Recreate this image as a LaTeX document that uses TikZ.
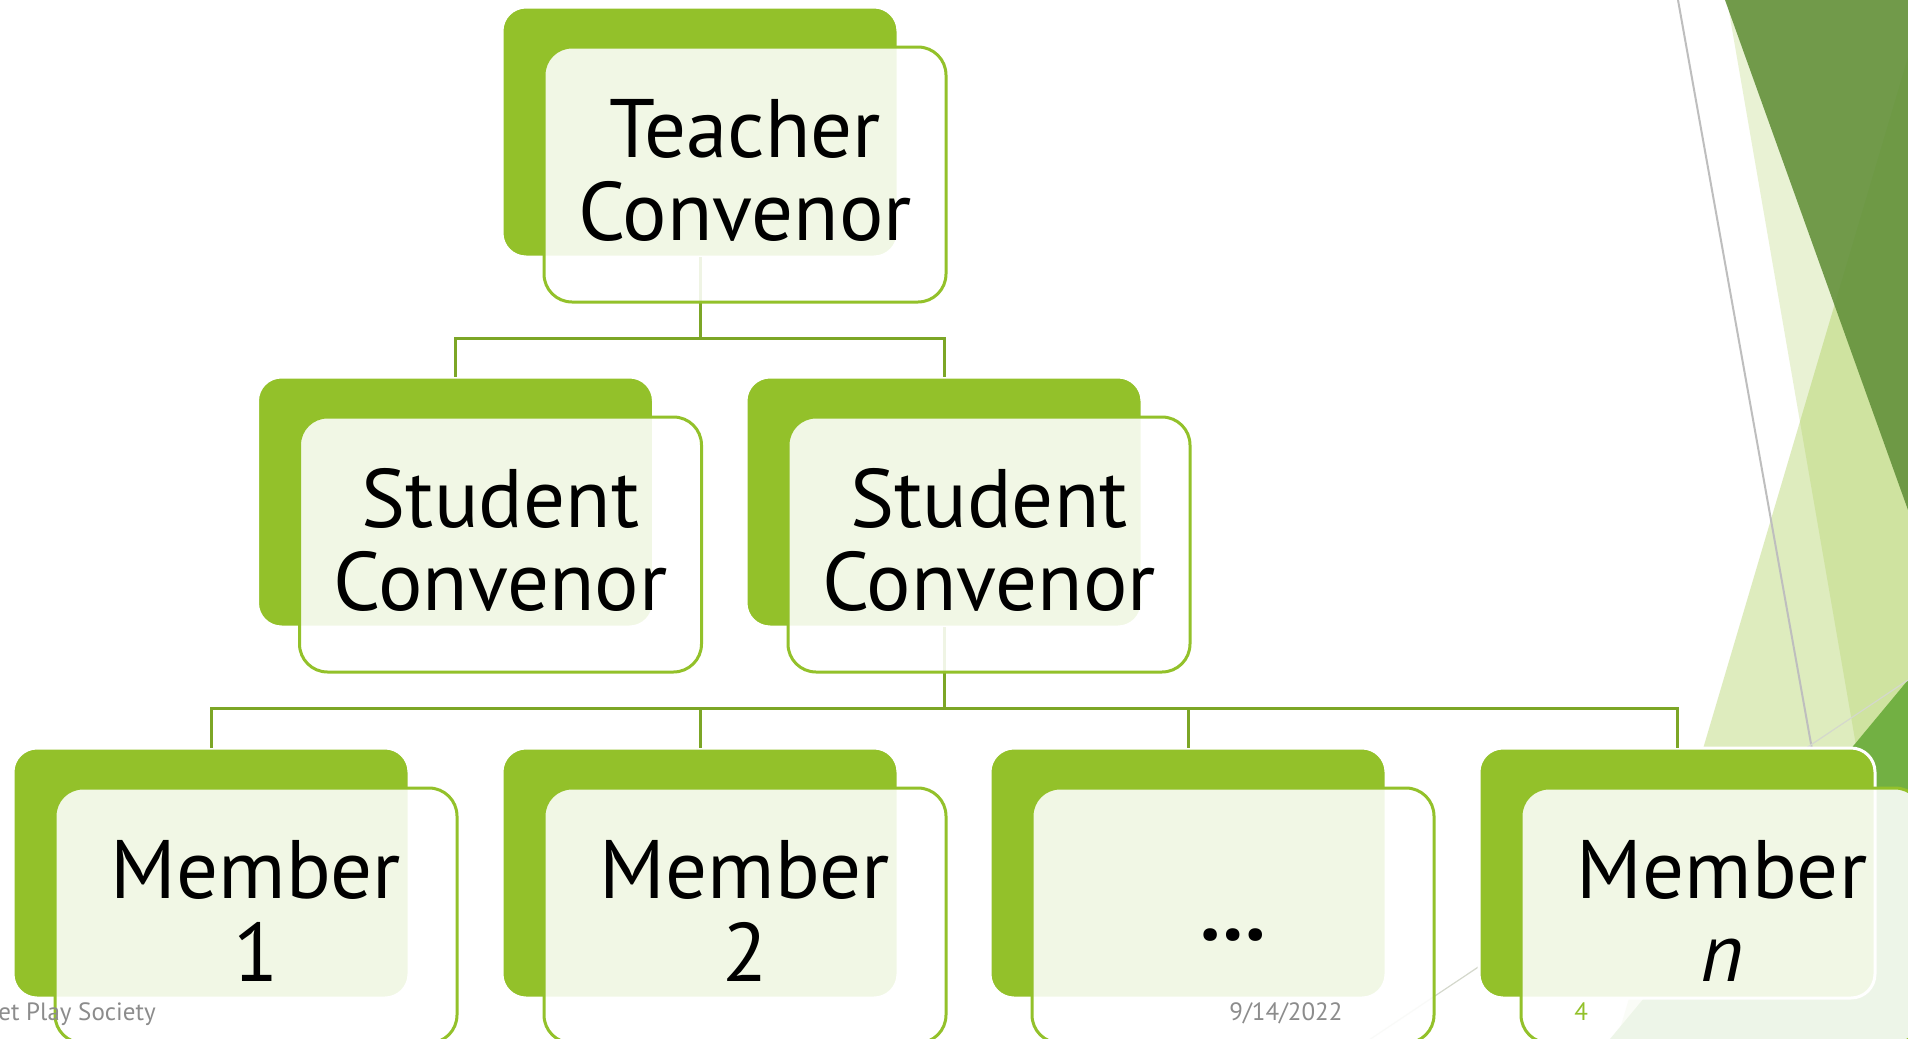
\documentclass[tikz,border=0pt]{standalone}
\usepackage{fontspec}
\setmainfont{PT Sans}
\definecolor{gbox}{RGB}{147,193,42}
\definecolor{gconn}{RGB}{124,166,38}
\definecolor{gdark}{RGB}{100,145,60}
\definecolor{gmid}{RGB}{114,176,67}
\definecolor{footgray}{RGB}{140,140,140}
\definecolor{linegray}{RGB}{190,190,190}
\definecolor{linelight}{RGB}{212,216,204}
\begin{document}
\begin{tikzpicture}[x=0.5pt,y=-0.5pt,
  backbox/.style={draw=white, line width=1.5pt, fill=gbox, rounded corners=12pt,
    minimum width=198pt, minimum height=125pt, inner sep=0pt, outer sep=0pt},
  frontbox/.style={draw=gbox, line width=1.5pt, fill=white, fill opacity=0.88, draw opacity=1,
    rounded corners=14pt, minimum width=201pt, minimum height=127.5pt, inner sep=0pt, outer sep=0pt},
  conn/.style={draw=gconn, line width=1.5pt},
  lbl/.style={font=\fontsize{41.5}{49}\selectfont, anchor=base, inner sep=0pt, text=black},
  foot/.style={font=\fontsize{12.5}{15}\selectfont, anchor=base west, inner sep=0pt, text=footgray}]
\useasboundingbox (0,0) rectangle (1908,1039);
\clip (0,0) rectangle (1908,1039);
\fill[white] (0,0) rectangle (1908,1039);
% background facets
\fill[gbox, opacity=0.3] (1908,57) -- (1617,1039) -- (1908,1039) -- cycle;
\fill[gbox, opacity=0.2] (1727,0) -- (1908,0) -- (1908,1046) -- cycle;
\fill[gdark, opacity=0.9] (1725,0) -- (1908,0) -- (1908,510) -- cycle;
\fill[gmid] (1908,680) -- (1610,1039) -- (1908,1039) -- cycle;
\coordinate (g1a) at (1678,0);
\coordinate (g1b) at (1813,755);
\draw[linegray, line width=1pt] (g1a) -- (g1b);
\coordinate (g2a) at (1360,1046);
\coordinate (g2b) at (1908,680);
\draw[linelight, line width=0.6pt] (g2a) -- (g2b);
% back boxes
\node[backbox] (tb) at (700,132) {};
\node[backbox] (s1) at (455.5,502) {};
\node[backbox] (s2) at (944,502) {};
\node[backbox] (m1) at (211,873) {};
\node[backbox] (m2) at (700,873) {};
\node[backbox] (m3) at (1188,873) {};
\node[backbox] (m4) at (1677,873) {};
% connectors
\coordinate (j1) at (700,338);
\coordinate (j2) at (944,708);
\draw[conn] (tb.south) -- (j1);
\draw[conn] (j1) -| (s1.north);
\draw[conn] (j1) -| (s2.north);
\draw[conn] (s2.south) -- (j2);
\draw[conn] (j2) -| (m1.north);
\draw[conn] (j2) -| (m2.north);
\draw[conn] (j2) -| (m3.north);
\draw[conn] (j2) -| (m4.north);
% front boxes
\node[frontbox] (tf) at (745,174.5) {};
\node[frontbox] (s1f) at (500.5,544.5) {};
\node[frontbox] (s2f) at (989,544.5) {};
\node[frontbox] (m1f) at (256,915.5) {};
\node[frontbox] (m2f) at (745,915.5) {};
\node[frontbox] (m3f) at (1233,915.5) {};
\node[frontbox] (m4f) at (1722,915.5) {};
% labels
\node[lbl] (tft1) at (745,157.5) {Teacher};
\node[lbl] (tft2) at (745,240.5) {Convenor};
\node[lbl] (s1t1) at (500.5,527.5) {Student};
\node[lbl] (s1t2) at (500.5,610.5) {Convenor};
\node[lbl] (s2t1) at (989,527.5) {Student};
\node[lbl] (s2t2) at (989,610.5) {Convenor};
\node[lbl] (m1t1) at (256,898.5) {Member};
\node[lbl] (m1t2) at (256,981.5) {1};
\node[lbl] (m2t1) at (745,898.5) {Member};
\node[lbl] (m2t2) at (745,981.5) {2};
\node[lbl] (m3t1) at (1233,940) {\textbf{…}};
\node[lbl] (m4t1) at (1722,898.5) {Member};
\node[lbl] (m4t2) at (1722,981.5) {\textit{n}};
% footer
\node[foot] (f1) at (-2,1020) {et Play Society};
\node[foot] (f2) at (1229,1020) {9/14/2022};
\node[foot, text=gbox] (f3) at (1574,1020) {4};
\end{tikzpicture}
\end{document}
